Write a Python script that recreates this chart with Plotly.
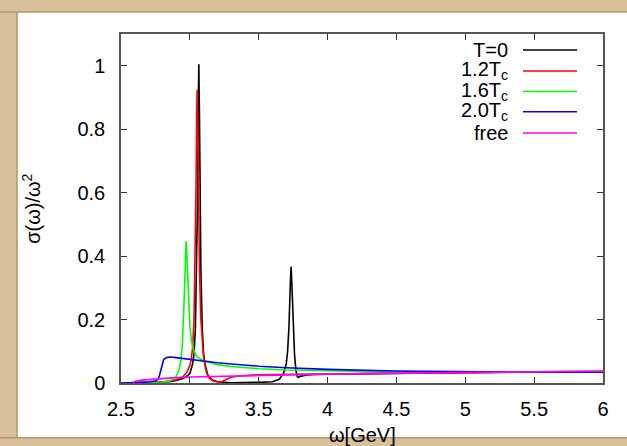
import plotly.graph_objects as go

# Spectral functions sigma(omega)/omega^2 of the charmonium channel
x_t0 = [2.5, 2.7, 2.85, 2.9, 2.95, 2.98, 3.0, 3.02, 3.03, 3.04, 3.05, 3.055, 3.06, 3.065,
        3.07, 3.075, 3.08, 3.09, 3.1, 3.11, 3.13, 3.16, 3.2, 3.3, 3.4, 3.5, 3.6, 3.65, 3.68,
        3.7, 3.71, 3.72, 3.73, 3.735, 3.74, 3.75, 3.76, 3.77, 3.78, 3.79, 3.8, 3.85, 3.9,
        4.0, 4.5, 5.0, 5.5, 6.0]
y_t0 = [0.0, 0.001, 0.004, 0.008, 0.014, 0.022, 0.03, 0.06, 0.09, 0.17, 0.36, 0.55, 0.83, 1.005,
        0.83, 0.55, 0.36, 0.17, 0.09, 0.06, 0.025, 0.01, 0.004, 0.001, 0.001, 0.002, 0.004, 0.012, 0.03,
        0.06, 0.1, 0.18, 0.32, 0.366, 0.32, 0.18, 0.09, 0.04, 0.02, 0.018, 0.021, 0.025, 0.027,
        0.028, 0.031, 0.033, 0.035, 0.036]

x_12 = [2.5, 2.7, 2.8, 2.9, 2.95, 2.98, 3.0, 3.01, 3.02, 3.03, 3.04, 3.045, 3.05, 3.053,
        3.057, 3.062, 3.07, 3.08, 3.09, 3.1, 3.11, 3.12, 3.14, 3.17, 3.2, 3.23, 3.26, 3.3,
        3.35, 3.4, 3.5, 3.6, 4.0, 4.5, 5.0, 5.5, 6.0]
y_12 = [0.0, 0.001, 0.003, 0.01, 0.02, 0.035, 0.055, 0.075, 0.11, 0.2, 0.42, 0.62, 0.86, 0.925,
        0.84, 0.6, 0.35, 0.2, 0.12, 0.08, 0.055, 0.035, 0.015, 0.006, 0.003, 0.004, 0.01, 0.018,
        0.022, 0.024, 0.026, 0.027, 0.029, 0.031, 0.033, 0.035, 0.036]

x_16 = [2.5, 2.7, 2.8, 2.85, 2.88, 2.9, 2.92, 2.935, 2.945, 2.955, 2.963, 2.968, 2.973,
        2.978, 2.985, 2.993, 3.0, 3.01, 3.02, 3.035, 3.05, 3.1, 3.15, 3.2, 3.3, 3.4, 3.5,
        3.7, 4.0, 4.5, 5.0, 5.5, 6.0]
y_16 = [0.0, 0.001, 0.003, 0.006, 0.012, 0.02, 0.04, 0.07, 0.12, 0.22, 0.34, 0.42, 0.447,
        0.41, 0.32, 0.23, 0.18, 0.14, 0.115, 0.095, 0.083, 0.07, 0.063, 0.058, 0.052, 0.048, 0.045,
        0.041, 0.038, 0.035, 0.035, 0.035, 0.036]

x_20 = [2.5, 2.6, 2.7, 2.75, 2.77, 2.78, 2.79, 2.8, 2.81, 2.83, 2.86, 2.9, 3.0, 3.1, 3.2,
        3.3, 3.4, 3.5, 3.7, 4.0, 4.5, 5.0, 5.5, 6.0]
y_20 = [0.0, 0.001, 0.003, 0.006, 0.012, 0.025, 0.045, 0.063, 0.074, 0.08, 0.082, 0.08, 0.074,
        0.069, 0.064, 0.06, 0.056, 0.053, 0.048, 0.043, 0.038, 0.035, 0.034, 0.034]

x_free = [2.59, 2.6, 2.65, 2.7, 2.8, 2.9, 3.0, 3.2, 3.4, 3.6, 3.8, 4.0, 4.5, 5.0, 5.5, 6.0]
y_free = [0.0, 0.005, 0.009, 0.011, 0.014, 0.017, 0.019, 0.021, 0.023, 0.025, 0.027, 0.028,
          0.031, 0.033, 0.035, 0.037]

labels = ["T=0", "1.2T<sub>c</sub>", "1.6T<sub>c</sub>", "2.0T<sub>c</sub>", "free"]
colors = ["#000000", "#ff0000", "#00ff00", "#0000ff", "#ff00ff"]
series = [(x_t0, y_t0), (x_12, y_12), (x_16, y_16), (x_20, y_20), (x_free, y_free)]

FONT = "Liberation Sans, Arial, Helvetica, sans-serif"
PARCHMENT = "#d8c09a"
EDGE = "#b8956a"

fig = go.Figure()
for (xs, ys), c, name in zip(series, colors, labels):
    fig.add_trace(go.Scatter(x=xs, y=ys, mode="lines", name=name,
                             line=dict(color=c, width=1.6), showlegend=False))

# Key drawn gnuplot-style: right-aligned label followed by a sample line
key_y = [0.954, 0.894, 0.835, 0.777, 0.716]
for name, c, ky in zip(labels, colors, key_y):
    fig.add_annotation(x=0.807, y=ky, xref="paper", yref="paper", text=name,
                       xanchor="right", yanchor="middle", showarrow=False,
                       font=dict(family=FONT, size=20, color="black"))
    fig.add_shape(type="line", xref="paper", yref="paper", x0=0.834, x1=0.946,
                  y0=ky, y1=ky, line=dict(color=c, width=1.5))

# Parchment strips around the white page, sized in pixels from the plot's left edge
frame = [(-140, -104, 0, 1.2, -0.3),      # left: (x0px, x1px, anchor, y1, y0)
         (-140, 540, 0, 1.2, 1.063),      # top
         (-140, 540, 0, -0.157, -0.3)]    # bottom
for x0, x1, anchor, ya, yb in frame:
    fig.add_shape(type="rect", xref="paper", yref="paper", layer="below",
                  xsizemode="pixel", xanchor=anchor, x0=x0, x1=x1,
                  y0=min(ya, yb), y1=max(ya, yb), fillcolor=PARCHMENT,
                  line=dict(color=EDGE, width=1.5))

fig.add_annotation(x=0.5, y=-0.15, xref="paper", yref="paper", text="ω[GeV]",
                   showarrow=False, xanchor="center", yanchor="middle",
                   font=dict(family=FONT, size=20, color="black"))
fig.add_annotation(x=-0.186, y=0.5, xref="paper", yref="paper",
                   text="σ(ω)/ω<sup>2</sup>", textangle=-90, showarrow=False,
                   xanchor="center", yanchor="middle",
                   font=dict(family=FONT, size=20, color="black"))

axis_style = dict(showgrid=False, zeroline=False, showline=True, linecolor="#555555",
                  linewidth=1.5, mirror="ticks", ticks="inside", ticklen=6,
                  tickcolor="#333333", tickwidth=1,
                  tickfont=dict(family=FONT, size=20, color="black"))

fig.update_xaxes(range=[2.5, 6], dtick=0.5, tick0=2.5, ticklabelstandoff=7, **axis_style)
fig.update_yaxes(range=[0, 1.1], dtick=0.2, tick0=0, ticklabelstandoff=10, **axis_style)

fig.update_layout(width=627, height=446,
                  margin=dict(l=121, r=24, t=34, b=63),
                  paper_bgcolor="white", plot_bgcolor="white",
                  font=dict(family=FONT, size=20, color="black"))

fig.write_html("out.html")
